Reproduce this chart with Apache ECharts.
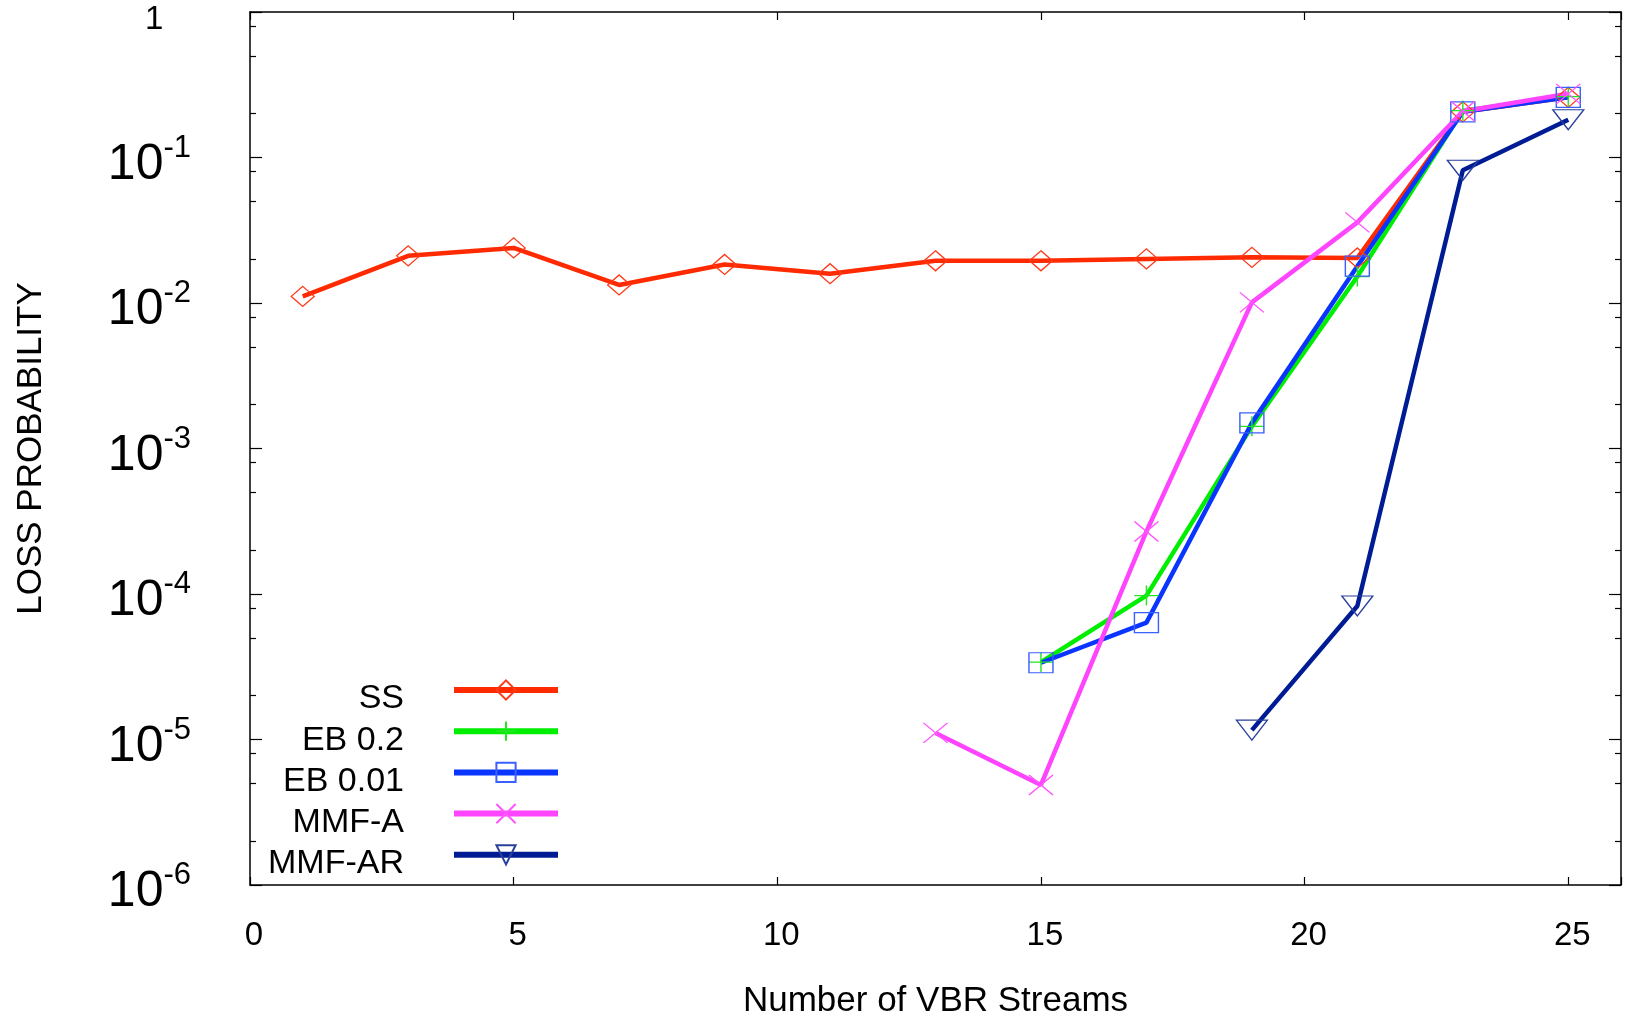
<!DOCTYPE html>
<html>
<head>
<meta charset="utf-8">
<script src="https://cdn.jsdelivr.net/npm/echarts@6/dist/echarts.min.js"></script>
<style>
  html, body { margin: 0; padding: 0; background: #fff; }
  #chart { width: 1628px; height: 1012px; }
</style>
</head>
<body>
<div id="chart"></div>
<script>
// x positions (number of VBR streams)
const streams = [1, 3, 5, 7, 9, 11, 13, 15, 17, 19, 21, 23, 25];

// loss probability per scheme (null = not plotted)
const ss    = [0.0111, 0.0211, 0.0239, 0.0133, 0.0184, 0.0159, 0.0195, 0.0195, 0.0201, 0.0206, 0.0204, 0.206, 0.259];
const eb02  = [null, null, null, null, null, null, null, 3.4e-5, 9.75e-5, 1.42e-3, 0.0152, 0.21, 0.262];
const eb001 = [null, null, null, null, null, null, null, 3.37e-5, 6.36e-5, 1.5e-3, 0.0179, 0.206, 0.259];
const mmfA  = [null, null, null, null, null, null, 1.11e-5, 4.87e-6, 2.69e-4, 0.0101, 0.0358, 0.208, 0.274];
const mmfAR = [null, null, null, null, null, null, null, null, null, 1.16e-5, 8.28e-5, 0.0817, 0.182];

// axis ticks
const yMajor = [1e-6, 1e-5, 1e-4, 1e-3, 1e-2, 1e-1, 1];
const yMinor = [2e-6, 5e-6, 8e-6, 2e-5, 5e-5, 8e-5, 2e-4, 5e-4, 8e-4,
                2e-3, 5e-3, 8e-3, 2e-2, 5e-2, 8e-2, 0.2, 0.5, 0.8];

const FONT = '"Liberation Sans", Arial, Helvetica, sans-serif';

const toPoints = (vals) =>
  streams.map((x, i) => [x, vals[i]]).filter((p) => p[1] != null);

const makeSeries = (name, vals, lineColor, markColor, symbol, size, rotate) => ({
  name: name,
  type: 'line',
  data: toPoints(vals),
  symbol: symbol,
  symbolSize: size,
  symbolRotate: rotate || 0,
  lineStyle: { color: lineColor, width: 4.5 },
  itemStyle: { color: 'rgba(255,255,255,0)', borderColor: markColor, borderWidth: 1.3 },
  emphasis: { disabled: true },
});

const chart = echarts.init(document.getElementById('chart'));

// "10" with a raised exponent: the exponent token gets bottom padding,
// which lifts its glyphs above the centre of the line
const yLabelRich = {
  b:   { fontSize: 50, lineHeight: 46, color: '#000', fontFamily: FONT },
  one: { fontSize: 33, lineHeight: 46, color: '#000', fontFamily: FONT },
  s:   { fontSize: 31, lineHeight: 36, padding: [0, 0, 34, 0], color: '#000', fontFamily: FONT },
  sp:  { fontSize: 31, lineHeight: 36, padding: [0, 19, 34, 0], color: '#000', fontFamily: FONT },
};

const logAxis = (extra) => Object.assign({
  type: 'log',
  logBase: 10,
  min: 1e-6,
  max: 1,
  splitLine: { show: false },
  axisLine: { show: false },
  axisLabel: { show: false },
}, extra);

const legendRich = {
  t: { fontSize: 34, lineHeight: 36, color: '#000', fontFamily: FONT, padding: [18, 45, 0, 0] },
};

const option = {
  animation: false,
  backgroundColor: '#fff',
  textStyle: { fontFamily: FONT },
  grid: { left: 250, right: 7, top: 12, bottom: 127, containLabel: false, outerBoundsMode: 'none' },
  legend: {
    orient: 'vertical',
    align: 'right',
    right: 1067,
    top: 664,
    padding: 0,
    itemWidth: 104,
    itemHeight: 24,
    itemGap: -10.8,
    selectedMode: false,
    lineStyle: { width: 6 },
    formatter: (name) => '{t|' + name + '}',
    textStyle: { fontSize: 34, color: '#000', fontFamily: FONT, rich: legendRich },
    data: ['SS', 'EB 0.2', 'EB 0.01', 'MMF-A', 'MMF-AR'],
  },
  xAxis: [
    {
      type: 'value',
      position: 'bottom',
      min: 0,
      max: 26,
      interval: 5,
      splitLine: { show: false },
      axisLine: { show: true, onZero: false, lineStyle: { color: '#000', width: 1.5 } },
      axisTick: { show: true, inside: true, length: 8, lineStyle: { color: '#000', width: 1.2 } },
      axisLabel: {
        fontSize: 33, color: '#000', margin: 34, fontFamily: FONT,
        padding: [0, 0, 0, 8],
        formatter: (v) => (v % 5 === 0 ? String(v) : ''),
      },
      name: 'Number of VBR Streams',
      nameLocation: 'middle',
      nameGap: 99,
      nameTextStyle: { fontSize: 35, color: '#000', fontFamily: FONT },
    },
    {
      type: 'value',
      position: 'top',
      min: 0,
      max: 26,
      interval: 5,
      splitLine: { show: false },
      axisLine: { show: true, onZero: false, lineStyle: { color: '#000', width: 1.5 } },
      axisTick: { show: true, inside: true, length: 8, lineStyle: { color: '#000', width: 1.2 } },
      axisLabel: { show: false },
    },
  ],
  yAxis: [
    logAxis({
      position: 'left',
      axisLine: { show: true, lineStyle: { color: '#000', width: 1.5 } },
      axisTick: { show: true, inside: true, length: 12, customValues: yMajor, lineStyle: { color: '#000', width: 1.2 } },
      axisLabel: {
        show: true,
        customValues: yMajor,
        margin: 59,
        fontSize: 50,
        padding: [15, 0, 0, 0],
        formatter: (v) => {
          const e = Math.round(Math.log10(v));
          return e === 0 ? '{one|1}{sp| }' : '{b|10}{s|' + e + '}';
        },
        rich: yLabelRich,
      },
      name: 'LOSS PROBABILITY',
      nameLocation: 'middle',
      nameRotate: 90,
      nameGap: 201,
      nameTextStyle: { fontSize: 35, color: '#000', fontFamily: FONT },
    }),
    logAxis({
      position: 'left',
      axisTick: { show: true, inside: true, length: 6, customValues: yMinor, lineStyle: { color: '#000', width: 1.2 } },
    }),
    logAxis({
      position: 'right',
      axisLine: { show: true, lineStyle: { color: '#000', width: 1.5 } },
      axisTick: { show: true, inside: true, length: 12, customValues: yMajor, lineStyle: { color: '#000', width: 1.2 } },
    }),
    logAxis({
      position: 'right',
      axisTick: { show: true, inside: true, length: 6, customValues: yMinor, lineStyle: { color: '#000', width: 1.2 } },
    }),
  ],
  series: [
    makeSeries('SS', ss, '#ff2a00', '#ff3a1a', 'diamond', [23, 20]),
    makeSeries('EB 0.2', eb02, '#00ee00', '#22e622', 'path://M5,0L5,10M0,5L10,5', [24, 20]),
    makeSeries('EB 0.01', eb001, '#0a35ff', '#3a60ff', 'rect', [24, 20]),
    makeSeries('MMF-A', mmfA, '#ff44ff', '#ff55ff', 'path://M0,0L10,10M10,0L0,10', [24, 20]),
    makeSeries('MMF-AR', mmfAR, '#001c94', '#2a3f9e', 'triangle', [31, 20], 180),
  ],
};

chart.setOption(option);
</script>
</body>
</html>
